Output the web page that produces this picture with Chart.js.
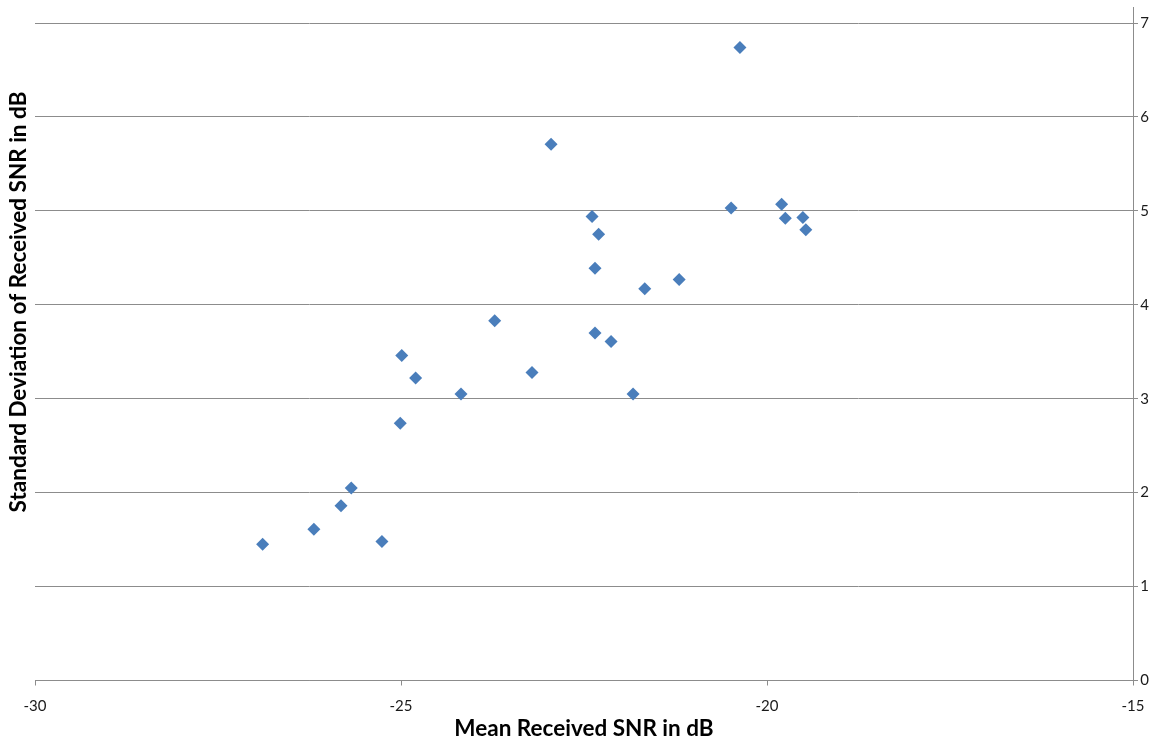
<!DOCTYPE html>
<html>
<head>
<meta charset="utf-8">
<script src="https://cdn.jsdelivr.net/npm/chart.js@4"></script>
<style>
  body { margin: 0; background: #fff; }
  #grafico { display: block; }
</style>
</head>
<body>
<canvas id="grafico" width="1151" height="745"></canvas>
<script>
// mean received SNR (x) and its standard deviation (y), in dB
var snrMean = [-26.89, -26.19, -25.82, -25.68, -25.26, -25.01, -24.99, -24.80, -24.18, -23.72, -23.21, -22.95, -22.39,
               -22.35, -22.35, -22.30, -22.13, -21.83, -21.67, -21.20, -20.49, -20.37, -19.80, -19.75, -19.51, -19.47];
var snrStd = [1.45, 1.61, 1.86, 2.05, 1.48, 2.74, 3.46, 3.22, 3.05, 3.83, 3.28, 5.71, 4.94,
              4.39, 3.70, 4.75, 3.61, 3.05, 4.17, 4.27, 5.03, 6.74, 5.07, 4.92, 4.93, 4.80];

var xTicks = [-30, -25, -20, -15];
var yTicks = [0, 1, 2, 3, 4, 5, 6, 7];

var xTitle = 'Mean Received SNR in dB';
var yTitle = 'Standard Deviation of Received SNR in dB';

var pontos = [];
for (let i = 0; i < snrMean.length; i++) {
  pontos.push({ x: snrMean[i], y: snrStd[i] });
}

// y title sits on the left while the axis itself is on the right
const tituloEsquerdo = {
  id: 'tituloEsquerdo',
  afterDraw(chart) {
    const ctx = chart.ctx;
    const area = chart.chartArea;
    ctx.save();
    // axis line runs a bit above the top gridline
    ctx.strokeStyle = '#8c8c8c';
    ctx.lineWidth = 1;
    ctx.beginPath();
    ctx.moveTo(area.right + 0.5, 7);
    ctx.lineTo(area.right + 0.5, area.top);
    ctx.stroke();

    ctx.translate(19, 302);
    ctx.rotate(-Math.PI / 2);
    ctx.font = 'bold 22.5px Lato';
    ctx.fillStyle = '#000';
    ctx.textAlign = 'center';
    ctx.textBaseline = 'middle';
    ctx.fillText(yTitle, 0, 0);
    ctx.restore();
  }
};

const grafico = document.getElementById('grafico');

new Chart(grafico, {
  type: 'scatter',
  data: {
    datasets: [{
      data: pontos,
      pointStyle: 'rectRot',
      pointRadius: 6.5,
      pointHoverRadius: 6.5,
      backgroundColor: '#4A7EBB',
      borderColor: '#4A7EBB',
      borderWidth: 0
    }]
  },
  options: {
    responsive: false,
    animation: false,
    events: [],
    layout: {
      padding: { left: 35, right: 13, top: 23, bottom: 2.5 }
    },
    plugins: {
      legend: { display: false },
      tooltip: { enabled: false }
    },
    scales: {
      x: {
        type: 'linear',
        min: -30,
        max: -15,
        afterBuildTicks: function (axis) {
          axis.ticks = xTicks.map(function (v) { return { value: v }; });
        },
        afterFit: function (axis) {
          axis.paddingLeft = 0;
          axis.paddingRight = 0;
        },
        grid: {
          drawOnChartArea: false,
          drawTicks: true,
          tickLength: 5,
          color: '#8c8c8c'
        },
        border: { color: '#8c8c8c', width: 1 },
        ticks: {
          color: '#1a1a1a',
          font: { family: 'Lato', size: 15 },
          padding: 12,
          maxRotation: 0
        },
        title: {
          display: true,
          text: xTitle,
          color: '#000',
          font: { family: 'Lato', size: 22.5, weight: 'bold' },
          padding: { top: -12, bottom: 0 }
        }
      },
      y: {
        type: 'linear',
        position: 'right',
        min: 0,
        max: 7,
        afterBuildTicks: function (axis) {
          axis.ticks = yTicks.map(function (v) { return { value: v }; });
        },
        afterFit: function (axis) {
          axis.width = 5;
          axis.paddingTop = 0;
          axis.paddingBottom = 0;
        },
        grid: {
          color: '#8c8c8c',
          tickLength: 5
        },
        border: { color: '#8c8c8c', width: 1 },
        ticks: {
          mirror: true,
          padding: 16,
          color: '#1a1a1a',
          font: { family: 'Lato', size: 15 }
        }
      }
    }
  },
  plugins: [tituloEsquerdo]
});
</script>
</body>
</html>
